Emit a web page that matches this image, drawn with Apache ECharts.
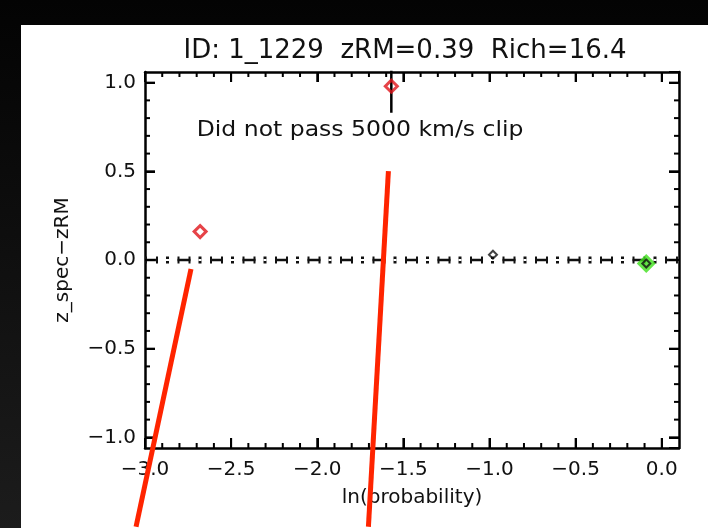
<!DOCTYPE html>
<html>
<head>
<meta charset="utf-8">
<script src="https://cdn.jsdelivr.net/npm/echarts@6/dist/echarts.min.js"></script>
<style>
  html, body { margin: 0; padding: 0; width: 708px; height: 528px; overflow: hidden;
    background: linear-gradient(180deg, #030303 0%, #1c1c1c 100%); }
  #panel { position: absolute; left: 21px; top: 25px; width: 687px; height: 503px; background: #ffffff; }
  #chart { position: absolute; left: 0; top: 0; width: 708px; height: 528px; }
</style>
</head>
<body>
<div id="panel"></div>
<div id="chart"></div>
<script>
// ---- data ----
const titleText = 'ID: 1_1229  zRM=0.39  Rich=16.4';
const xName = 'ln(probability)';
const yName = 'z_spec\u2212zRM';
const xRange = [-3.0, 0.1];
const yRange = [-1.06, 1.06];
const xMajorTicks = [-3.0, -2.5, -2.0, -1.5, -1.0, -0.5, 0.0];
const xMinorTicks = [-2.9, -2.8, -2.7, -2.6, -2.4, -2.3, -2.2, -2.1, -1.9, -1.8, -1.7, -1.6,
                     -1.4, -1.3, -1.2, -1.1, -0.9, -0.8, -0.7, -0.6, -0.4, -0.3, -0.2, -0.1];
const yMajorTicks = [-1.0, -0.5, 0.0, 0.5, 1.0];
const yMinorTicks = [-0.9, -0.8, -0.7, -0.6, -0.4, -0.3, -0.2, -0.1,
                     0.1, 0.2, 0.3, 0.4, 0.6, 0.7, 0.8, 0.9];
const zeroLine = [[-3.0, 0.0], [0.1, 0.0]];
const rejectedPoints = [[-2.68, 0.16], [-1.57, 0.98]];
const errorBars = [[-1.57, 0.83, 1.13]];
const otherPoints = [[-0.98, 0.03], [-0.09, -0.02]];
const bestPoint = [[-0.09, -0.02]];
const noteText = 'Did not pass 5000 km/s clip';
const notePos = [[-2.70, 0.73]];
const redStrokes = [
  [-2.733, -0.051, -3.052, -1.504],
  [-1.587, 0.501, -1.703, -1.504]
];

// ---- chart ----
const FONT = 'DejaVu Sans';
const fmt = v => (Math.abs(v) < 1e-9 ? '0.0' : v.toFixed(1).replace('-', '\u2212'));
const chart = echarts.init(document.getElementById('chart'), null, { renderer: 'canvas' });

function makeAxis(range, pos, extra) {
  return Object.assign({
    type: 'value', position: pos,
    min: range[0], max: range[1], minInterval: 0.5, maxInterval: 0.5,
    splitLine: { show: false },
    axisLine: { show: true, onZero: false, lineStyle: { color: '#000', width: 2.5 } },
    axisLabel: { show: false },
    axisTick: { show: true, inside: true, length: 10, lineStyle: { color: '#000', width: 2 } }
  }, extra || {});
}

// tick marks drawn on all four sides of the frame, positioned through the axes' scales
function tickSeries(vals, dim, len) {
  return {
    type: 'custom', xAxisIndex: 0, yAxisIndex: 0, clip: false, z: 10, silent: true,
    data: vals.map(v => (dim === 'x' ? [v, 0] : [0, v])),
    renderItem: (params, api) => {
      const cs = params.coordSys;
      const st = { stroke: '#000', lineWidth: 2 };
      if (dim === 'x') {
        const x = api.coord([api.value(0), 0])[0];
        const yb = cs.y + cs.height, yt = cs.y;
        return { type: 'group', children: [
          { type: 'line', shape: { x1: x, y1: yb, x2: x, y2: yb - len }, style: st },
          { type: 'line', shape: { x1: x, y1: yt, x2: x, y2: yt + len }, style: st }
        ] };
      }
      const y = api.coord([0, api.value(1)])[1];
      const xl = cs.x, xr = cs.x + cs.width;
      return { type: 'group', children: [
        { type: 'line', shape: { x1: xl, y1: y, x2: xl + len, y2: y }, style: st },
        { type: 'line', shape: { x1: xr, y1: y, x2: xr - len, y2: y }, style: st }
      ] };
    }
  };
}

const errorLines = errorBars.map(e => ({
  type: 'line', xAxisIndex: 0, yAxisIndex: 0, data: [[e[0], e[1]], [e[0], e[2]]],
  showSymbol: false, symbol: 'none', clip: true, z: 3,
  lineStyle: { color: '#000', width: 2.5 }, silent: true
}));

const option = {
  backgroundColor: 'transparent',
  animation: false,
  title: {
    text: titleText, left: 400, top: 33, textAlign: 'center',
    textStyle: { fontFamily: FONT, fontSize: 26, fontWeight: 'normal', color: '#111' }
  },
  grid: { left: 145, right: 29, top: 72, bottom: 80 },
  xAxis: [
    makeAxis(xRange, 'bottom', {
      name: xName, nameLocation: 'middle', nameGap: 40,
      nameTextStyle: { fontFamily: FONT, fontSize: 20, color: '#111' },
      axisLabel: { show: true, margin: 12, formatter: fmt, showMaxLabel: false,
        fontFamily: FONT, fontSize: 20, color: '#111' }
    }),
    makeAxis(xRange, 'top')
  ],
  yAxis: [
    makeAxis(yRange, 'left', {
      name: yName, nameLocation: 'middle', nameGap: 72, nameRotate: 90,
      nameTextStyle: { fontFamily: FONT, fontSize: 20, color: '#111' },
      axisLabel: { show: true, margin: 9, formatter: fmt, showMinLabel: false, showMaxLabel: false,
        fontFamily: FONT, fontSize: 20, color: '#111' }
    }),
    makeAxis(yRange, 'right')
  ],
  series: [
    tickSeries(xMajorTicks, 'x', 10),
    tickSeries(xMinorTicks, 'x', 5),
    tickSeries(yMajorTicks, 'y', 10),
    tickSeries(yMinorTicks, 'y', 5),
    // zero line: dash bars
    { type: 'line', data: zeroLine, showSymbol: false, symbol: 'none', z: 2, silent: true,
      lineStyle: { color: '#111', width: 2.5, type: [13, 19.5] } },
    // zero line: dash end caps
    { type: 'line', data: zeroLine, showSymbol: false, symbol: 'none', z: 2, silent: true,
      lineStyle: { color: '#111', width: 7, type: [2, 9, 2, 19.5] } },
    // zero line: colon dots
    { type: 'line', data: zeroLine, showSymbol: false, symbol: 'none', z: 2, silent: true,
      lineStyle: { color: '#111', width: 7, type: [3, 29.5], dashOffset: 11.5 } },
    { type: 'line', data: zeroLine, showSymbol: false, symbol: 'none', z: 2, silent: true,
      lineStyle: { color: '#fff', width: 2, type: [3, 29.5], dashOffset: 11.5 } },
    ...errorLines,
    { type: 'scatter', data: bestPoint, symbol: 'diamond', symbolSize: 19, z: 4, silent: true,
      itemStyle: { color: '#3fe01c', borderWidth: 0 } },
    { type: 'scatter', data: rejectedPoints, symbol: 'diamond', symbolSize: 12, z: 5, silent: true,
      itemStyle: { color: 'rgba(0,0,0,0)', borderColor: '#e0141a', borderWidth: 3 } },
    { type: 'scatter', data: otherPoints, symbol: 'diamond', symbolSize: 8, z: 6, silent: true,
      itemStyle: { color: 'rgba(0,0,0,0)', borderColor: '#111', borderWidth: 2 } },
    // annotation text
    { type: 'custom', data: notePos, clip: false, z: 7, silent: true,
      renderItem: (params, api) => {
        const p = api.coord([api.value(0), api.value(1)]);
        return { type: 'text', x: p[0], y: p[1], scaleX: 1.12,
          style: { text: noteText, fontFamily: FONT, fontSize: 21, fill: '#111',
            align: 'left', verticalAlign: 'middle', textAlign: 'left', textVerticalAlign: 'middle' } };
      } },
    // hand-drawn red strokes
    { type: 'custom', data: redStrokes, clip: false, z: 20, silent: true,
      encode: { x: [0, 2], y: [1, 3] },
      renderItem: (params, api) => {
        const a = api.coord([api.value(0), api.value(1)]);
        const b = api.coord([api.value(2), api.value(3)]);
        return { type: 'polyline', shape: { points: [a, b] },
          style: { stroke: '#ff2400', lineWidth: 5, fill: null } };
      } }
  ]
};
chart.setOption(option);
</script>
</body>
</html>
